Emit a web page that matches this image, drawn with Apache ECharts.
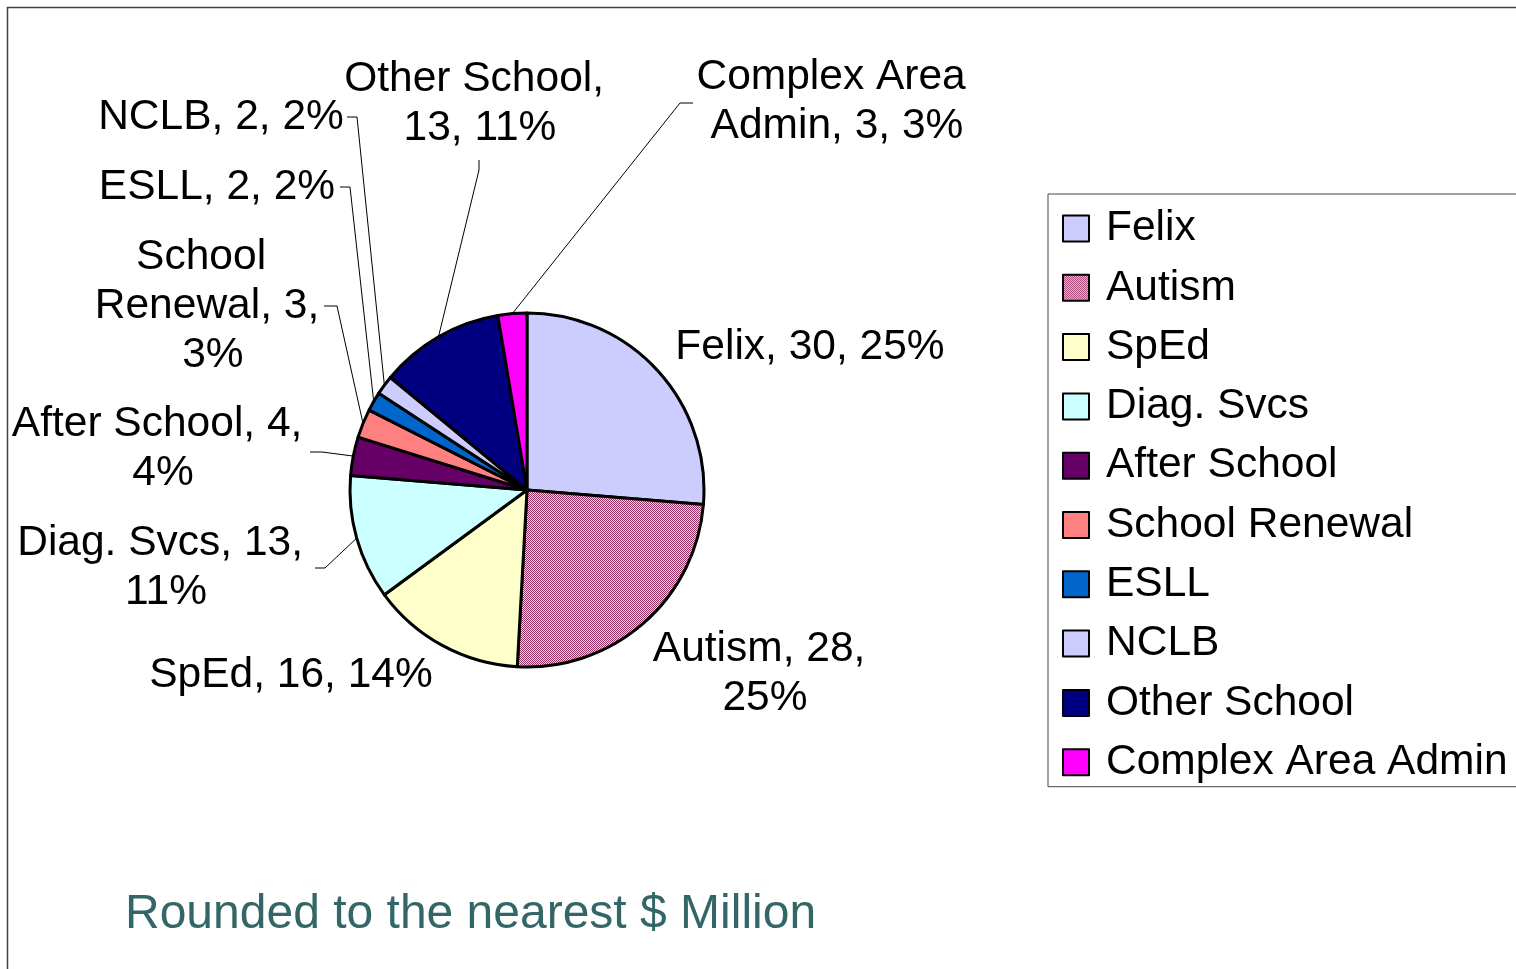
<!DOCTYPE html>
<html><head><meta charset="utf-8">
<script src="https://cdn.jsdelivr.net/npm/echarts@6/dist/echarts.min.js"></script>
<style>html,body{margin:0;padding:0;background:#fff;overflow:hidden}#c{width:1516px;height:969px}</style>
</head><body><div id="c"></div>
<script>
// ---- data ----
const categories = ['Felix','Autism','SpEd','Diag. Svcs','After School','School Renewal','ESLL','NCLB','Other School','Complex Area Admin'];
const values = [30, 28, 16, 13, 4, 3, 2, 2, 13, 3];
const percents = [25, 25, 14, 11, 4, 3, 2, 2, 11, 3];
const note = 'Rounded to the nearest $ Million';

// ---- styles / layout ----
const colors = ['#CCCCFF','PATTERN','#FFFFCC','#CCFFFF','#660066','#FF8080','#0066CC','#CCCCFF','#000080','#FF00FF'];
// label block centre, wrap width, leader-line tail (from elbow to label end), or null for none
const labelLayoutCfg = [
  {x: 810, y: 347, w: null, tail: null},
  {x: 765, y: 674, w: 235, tail: null},
  {x: 291, y: 675, w: null, tail: null},
  {x: 166, y: 568, w: 310, tail: [[325, 568], [315, 568]]},
  {x: 163, y: 449, w: 310, tail: [[322, 452], [310, 452]]},
  {x: 207, y: 306, w: 235, tail: [[337, 306], [324, 306]]},
  {x: 217, y: 187, w: null, tail: [[350, 187], [340, 187]]},
  {x: 221, y: 117, w: null, tail: [[357, 117], [347, 117]]},
  {x: 480, y: 104, w: 295, tail: [[479, 170], [479, 160]]},
  {x: 837, y: 102, w: 310, tail: [[680, 103], [693, 103]]}
];
const FONT = "'Liberation Sans', Arial, sans-serif";

function makePattern() {
  const c = document.createElement('canvas');
  c.width = 2; c.height = 2;
  const g = c.getContext('2d');
  g.fillStyle = '#FFCCE6'; g.fillRect(0, 0, 2, 2);
  g.fillStyle = '#993366'; g.fillRect(0, 0, 1, 1); g.fillRect(1, 1, 1, 1);
  return {image: c, repeat: 'repeat'};
}
const pattern = makePattern();

const seriesData = categories.map((name, i) => {
  const cfg = labelLayoutCfg[i];
  const item = {
    name: name,
    value: values[i],
    itemStyle: {color: colors[i] === 'PATTERN' ? pattern : colors[i]},
    label: {}
  };
  if (cfg.w) { item.label.width = cfg.w; item.label.overflow = 'break'; }
  if (!cfg.tail) item.labelLine = {show: false};
  return item;
});

const chart = echarts.init(document.getElementById('c'), null, {renderer: 'canvas'});
chart.setOption({
  animation: false,
  backgroundColor: '#ffffff',
  legend: {
    orient: 'vertical',
    left: 1048, top: 194,
    padding: [13, 40, 3, 14],
    itemWidth: 26, itemHeight: 26, itemGap: 16.3,
    borderColor: '#444', borderWidth: 1,
    selectedMode: false,
    icon: 'rect',
    itemStyle: {borderColor: '#000', borderWidth: 2},
    textStyle: {fontSize: 42.5, lineHeight: 40, fontFamily: FONT, color: '#000', padding: [0, 0, 0, 12]},
    data: categories
  },
  graphic: [
    {type: 'rect', shape: {x: 7.5, y: 7.5, width: 1540, height: 1000}, style: {fill: 'none', stroke: '#404040', lineWidth: 1.5}, silent: true},
    {type: 'text', left: 125, top: 891, style: {text: note, fontSize: 48, fontFamily: FONT, fill: '#336666'}}
  ],
  series: [{
    type: 'pie',
    center: [527, 490],
    radius: 177,
    startAngle: 90,
    clockwise: true,
    avoidLabelOverlap: false,
    emphasis: {disabled: true},
    itemStyle: {borderColor: '#000', borderWidth: 3},
    label: {
      show: true,
      position: 'outside',
      fontSize: 42.5, lineHeight: 49, fontFamily: FONT, color: '#000',
      formatter: p => `${p.name}, ${p.value}, ${percents[p.dataIndex]}%`
    },
    labelLine: {show: true, length: 10, length2: 10, lineStyle: {color: '#000', width: 1}},
    labelLayout: function (params) {
      const cfg = labelLayoutCfg[params.dataIndex];
      const res = {x: cfg.x, y: cfg.y, align: 'center', verticalAlign: 'middle'};
      if (cfg.tail && params.labelLinePoints) {
        const start = params.labelLinePoints[0];
        res.labelLinePoints = [start].concat(cfg.tail);
      }
      return res;
    },
    data: seriesData
  }]
});
</script>
</body></html>
